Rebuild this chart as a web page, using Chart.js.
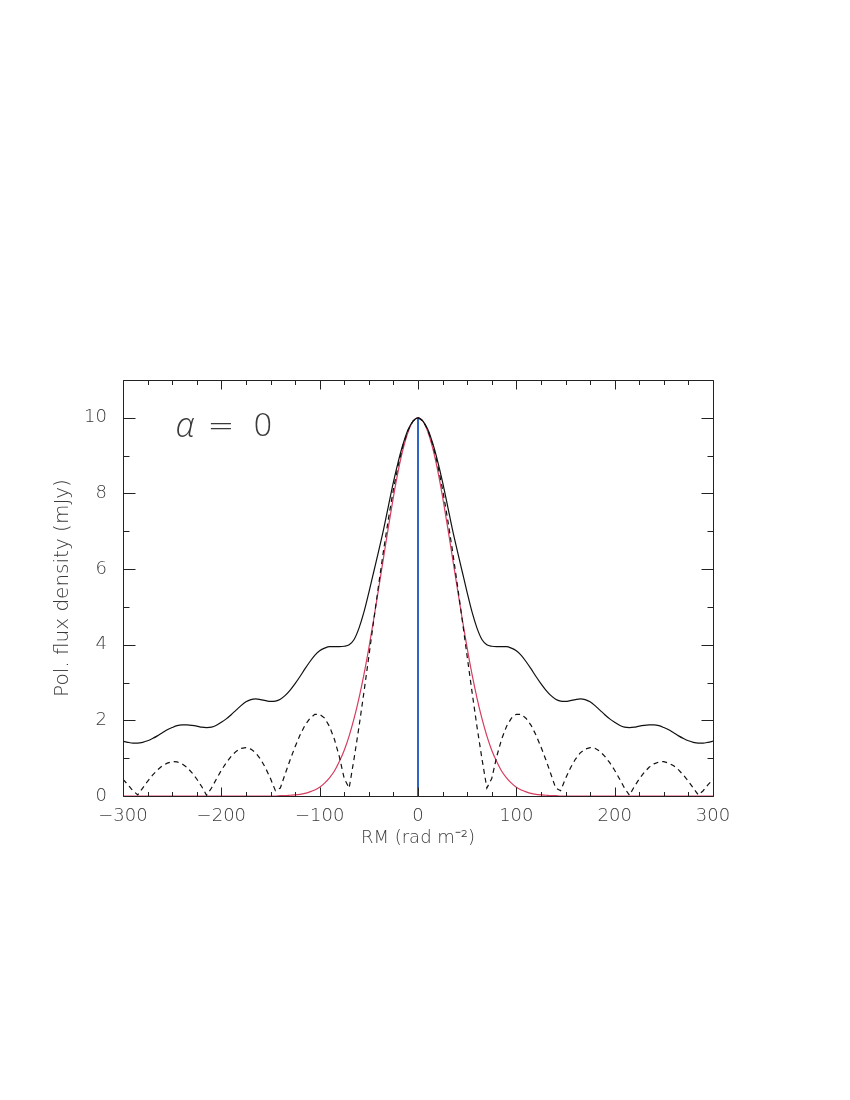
<!DOCTYPE html>
<html>
<head>
<meta charset="utf-8">
<script src="https://cdn.jsdelivr.net/npm/chart.js@4"></script>
<style>
  body { margin: 0; background: #fff; }
  #rmsf { display: block; }
</style>
</head>
<body>
<canvas id="rmsf" width="850" height="1100"></canvas>
<script>
// RM axis samples (rad m^-2)
var rm = [-300,-295,-290,-285,-280,-275,-270,-265,-260,-255,-250,-245,-240,-235,-230,-225,-220,-215,-210,-205,
  -200,-195,-190,-185,-180,-175,-170,-165,-160,-155,-150,-145,-140,-135,-130,-125,-120,-115,-110,-105,
  -100,-95,-90,-85,-80,-75,-70,-65,-60,-55,-50,-45,-40,-35,-30,-25,-20,-15,-10,-5,
  0,5,10,15,20,25,30,35,40,45,50,55,60,65,70,75,80,85,90,95,
  100,105,110,115,120,125,130,135,140,145,150,155,160,165,170,175,180,185,190,195,
  200,205,210,215,220,225,230,235,240,245,250,255,260,265,270,275,280,285,290,295,300];

// solid black curve
var solidFlux = [1.45,1.42,1.4,1.4,1.42,1.46,1.52,1.59,1.67,1.75,1.81,1.86,1.88,1.88,1.87,1.85,1.82,1.81,1.82,1.87,
  1.95,2.04,2.15,2.27,2.39,2.49,2.55,2.57,2.55,2.52,2.5,2.51,2.56,2.66,2.8,2.97,3.16,3.36,3.55,3.72,
  3.84,3.91,3.95,3.95,3.95,3.96,4.0,4.14,4.44,4.86,5.38,5.93,6.48,7.05,7.68,8.3,8.85,9.32,9.69,9.91,
  10,9.91,9.69,9.32,8.85,8.3,7.68,7.05,6.48,5.93,5.38,4.86,4.44,4.14,4.0,3.96,3.95,3.95,3.95,3.91,
  3.84,3.72,3.55,3.36,3.16,2.97,2.8,2.66,2.56,2.51,2.5,2.52,2.55,2.57,2.55,2.49,2.39,2.27,2.15,2.04,
  1.95,1.87,1.82,1.81,1.82,1.85,1.87,1.88,1.88,1.86,1.81,1.75,1.67,1.59,1.52,1.46,1.42,1.4,1.4,1.42,1.45];

// dashed curve
var dashedFlux = [0.44,0.3,0.14,0.03,0.21,0.39,0.55,0.69,0.8,0.87,0.91,0.9,0.85,0.76,0.62,0.45,0.25,0.02,0.21,0.45,
  0.68,0.88,1.05,1.18,1.26,1.28,1.24,1.14,0.97,0.74,0.46,0.14,0.21,0.59,0.96,1.3,1.61,1.87,2.05,2.16,
  2.16,2.06,1.84,1.5,1.04,0.46,0.21,0.99,1.83,2.74,3.69,4.65,5.59,6.5,7.34,8.11,8.76,9.29,9.68,9.92,
  10,9.92,9.68,9.29,8.76,8.11,7.34,6.5,5.59,4.65,3.69,2.74,1.83,0.99,0.21,0.46,1.04,1.5,1.84,2.06,
  2.16,2.16,2.05,1.87,1.61,1.3,0.96,0.59,0.21,0.14,0.46,0.74,0.97,1.14,1.24,1.28,1.26,1.18,1.05,0.88,
  0.68,0.45,0.21,0.02,0.25,0.45,0.62,0.76,0.85,0.9,0.91,0.87,0.8,0.69,0.55,0.39,0.21,0.03,0.14,0.3,0.44];

// red restoring beam
var beamFlux = [0,0,0,0,0,0,0,0,0,0,0,0,0,0,0,0,0,0,0,0,
  0,0,0,0,0,0,0,0,0,0,0,0,0.01,0.01,0.02,0.03,0.045,0.07,0.11,0.16,
  0.23,0.34,0.48,0.66,0.91,1.21,1.59,2.05,2.59,3.21,3.91,4.68,5.49,6.31,7.13,7.91,8.61,9.19,9.63,9.91,
  10,9.91,9.63,9.19,8.61,7.91,7.13,6.31,5.49,4.68,3.91,3.21,2.59,2.05,1.59,1.21,0.91,0.66,0.48,0.34,
  0.23,0.16,0.11,0.07,0.045,0.03,0.02,0.01,0.01,0,0,0,0,0,0,0,0,0,0,0,
  0,0,0,0,0,0,0,0,0,0,0,0,0,0,0,0,0,0,0,0,0];

// blue clean component
var spikeRM = [0, 0];
var spikeFlux = [0, 10];

var xTicks = [-300, -200, -100, 0, 100, 200, 300];
var yTicks = [0, 2, 4, 6, 8, 10];

function pts(xs, ys) {
    return xs.map(function (x, i) { return { x: x, y: ys[i] }; });
}

var FONT = '"DejaVu Sans", "Liberation Sans", sans-serif';
var INK = '#3a3a3a';

var framePlugin = {
    id: 'frame',
    afterDatasetsDraw: function (chart) {
        var c = chart.ctx, a = chart.chartArea;
        var xs = chart.scales.x, ys = chart.scales.y;
        c.save();
        c.strokeStyle = '#222';
        c.lineWidth = 1;
        c.beginPath();
        var L = Math.round(a.left) + 0.5, R = Math.round(a.right) + 0.5;
        var T = Math.round(a.top) + 0.5, B = Math.round(a.bottom) + 0.5;
        c.rect(L, T, R - L, B - T);
        for (var v = -300; v <= 300; v += 25) {
            var px = Math.round(xs.getPixelForValue(v)) + 0.5;
            var len = (v % 100 === 0) ? 9 : 4.5;
            c.moveTo(px, B); c.lineTo(px, B - len);
            c.moveTo(px, T); c.lineTo(px, T + len);
        }
        for (var w = 0; w <= 11; w += 1) {
            var py = Math.round(ys.getPixelForValue(w)) + 0.5;
            var ln = (w % 2 === 0) ? 12 : 6;
            c.moveTo(L, py); c.lineTo(L + ln, py);
            c.moveTo(R, py); c.lineTo(R - ln, py);
        }
        c.stroke();

        // alpha label
        c.fillStyle = INK;
        c.textBaseline = 'middle';
        c.textAlign = 'center';
        c.font = 'italic 300 34px "Open Sans", ' + FONT;
        c.fillText('α', a.left + 62, a.top + 47);
        c.font = '200 32px ' + FONT;
        c.fillText('=', a.left + 98, a.top + 48);
        c.fillText('0', a.left + 140, a.top + 48);
        c.restore();
    }
};

var ctx = document.getElementById('rmsf').getContext('2d');
var chart = new Chart(ctx, {
    type: 'line',
    data: {
        datasets: [{
            data: pts(rm, solidFlux),
            borderColor: '#111',
            borderWidth: 1.2,
            pointRadius: 0,
            cubicInterpolationMode: 'monotone'
        }, {
            data: pts(rm, dashedFlux),
            borderColor: '#111',
            borderWidth: 1.2,
            borderDash: [5, 4],
            pointRadius: 0,
            tension: 0
        }, {
            data: pts(rm, beamFlux),
            borderColor: '#d63c5e',
            borderWidth: 1.2,
            pointRadius: 0,
            cubicInterpolationMode: 'monotone'
        }, {
            data: pts(spikeRM, spikeFlux),
            borderColor: '#2f64c8',
            borderWidth: 2,
            pointRadius: 0
        }]
    },
    options: {
        responsive: false,
        animation: false,
        events: [],
        layout: { padding: { top: 380, right: 137, bottom: 244, left: 0 } },
        plugins: { legend: { display: false }, tooltip: { enabled: false } },
        scales: {
            x: {
                type: 'linear',
                min: -300,
                max: 300,
                grid: { display: false },
                border: { display: false },
                afterBuildTicks: function (s) { s.ticks = xTicks.map(function (v) { return { value: v }; }); },
                afterFit: function (s) { s.height = 60; },
                ticks: {
                    color: INK,
                    padding: 2,
                    maxRotation: 0,
                    font: { family: FONT, size: 18, weight: 200 },
                    callback: function (v) { return v < 0 ? '\u2212' + Math.abs(v) : String(v); }
                },
                title: {
                    display: true,
                    text: 'RM (rad m\u207B\u00B2)',
                    color: INK,
                    padding: { top: 0, bottom: 7 },
                    font: { family: FONT, size: 18, weight: 200 }
                }
            },
            y: {
                min: 0,
                max: 11,
                grid: { display: false },
                border: { display: false },
                afterBuildTicks: function (s) { s.ticks = yTicks.map(function (v) { return { value: v }; }); },
                afterFit: function (s) { s.width = 123; },
                ticks: {
                    color: INK,
                    padding: 8,
                    font: { family: FONT, size: 18, weight: 200 }
                },
                title: {
                    display: true,
                    text: 'Pol. flux density (mJy)',
                    color: INK,
                    padding: { top: 51, bottom: 0 },
                    font: { family: FONT, size: 20, weight: 200 }
                }
            }
        }
    },
    plugins: [framePlugin]
});
</script>
</body>
</html>
